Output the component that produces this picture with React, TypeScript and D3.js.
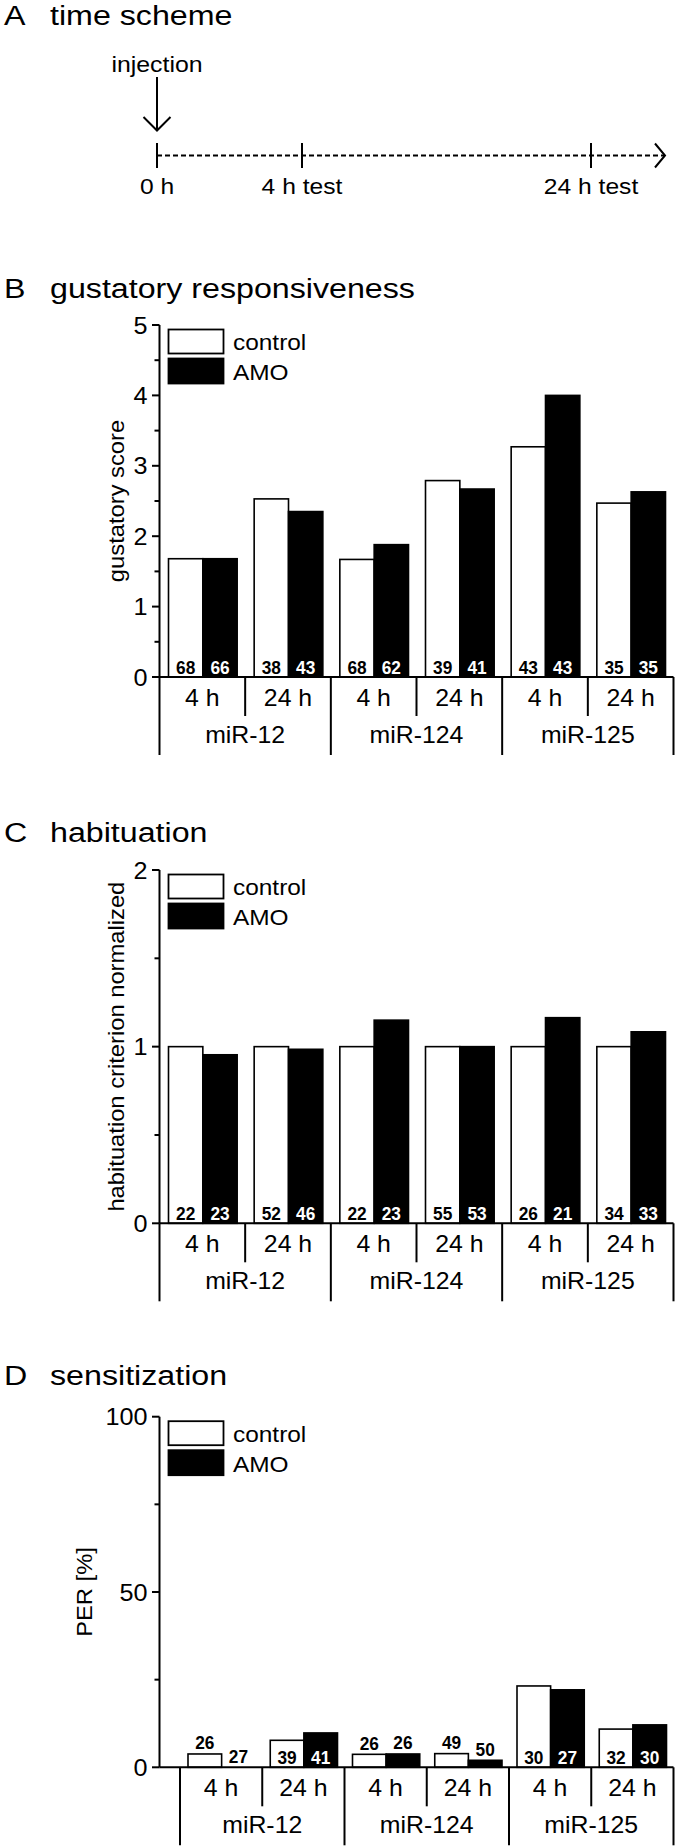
import React from "react";
import * as d3 from "d3";

const FONT = "'Liberation Sans', Arial, Helvetica, sans-serif";

// categories
const miRNAs = ["miR-12", "miR-124", "miR-125"];
const times = ["4 h", "24 h"];
const series = ["control", "AMO"];

// A: time scheme
const schemeHours = [0, 4, 24];
const schemeLabels = ["0 h", "4 h test", "24 h test"];

// B: gustatory responsiveness (gustatory score)
const gustControl = [1.68, 2.53, 1.67, 2.79, 3.27, 2.47];
const gustAmo = [1.68, 2.35, 1.88, 2.67, 4.0, 2.63];
const gustNControl = [68, 38, 68, 39, 43, 35];
const gustNAmo = [66, 43, 62, 41, 43, 35];
const gustTicks = [0, 1, 2, 3, 4, 5];

// C: habituation (criterion normalized)
const habControl = [1, 1, 1, 1, 1, 1];
const habAmo = [0.954, 0.985, 1.15, 1.0, 1.164, 1.084];
const habNControl = [22, 52, 22, 55, 26, 34];
const habNAmo = [23, 46, 23, 53, 21, 33];
const habTicks = [0, 1, 2];

// D: sensitization (PER %)
const sensControl = [3.8, 7.7, 3.7, 3.9, 23.2, 10.9];
const sensAmo = [0, 9.8, 3.8, 2.0, 22.1, 12.1];
const sensNControl = [26, 39, 26, 49, 30, 32];
const sensNAmo = [27, 41, 26, 50, 27, 30];
const sensTicks = [0, 50, 100];

const keys = miRNAs.flatMap((m) => times.map((t) => `${m}|${t}`));

function Txt({ x, y, sx = 1, rot = 0, size = 22, anchor = "start", weight = "normal", fill = "#000", children }: any) {
  return (
    <text
      transform={`translate(${x},${y}) rotate(${rot}) scale(${sx},1)`}
      fontSize={size}
      fontFamily={FONT}
      fontWeight={weight}
      textAnchor={anchor}
      fill={fill}
      stroke="none"
    >
      {children}
    </text>
  );
}

function Title({ y, letter, text }: any) {
  return (
    <g>
      <Txt x={4} y={y} size={28} sx={1.15}>{letter}</Txt>
      <Txt x={50} y={y} size={28} sx={1.15}>{text}</Txt>
    </g>
  );
}

function TimeScheme() {
  const x = d3.scaleLinear().domain([0, 4, 24]).range([157, 302, 591]);
  const lineY = 155.5;
  const endX = 665;
  return (
    <g>
      <Title y={25} letter="A" text="time scheme" />
      <Txt x={x(0)} y={72} anchor="middle" sx={1.13}>injection</Txt>
      <g stroke="#000" fill="none" strokeWidth={2}>
        <line x1={x(0)} x2={x(0)} y1={77} y2={130} />
        <polyline points={`${x(0) - 13.5},117 ${x(0)},130.5 ${x(0) + 13.5},117`} />
        <line x1={x(0)} x2={endX} y1={lineY} y2={lineY} strokeDasharray="5,3" strokeWidth={1.8} />
        <polyline points={`${endX - 10},${lineY - 12} ${endX},${lineY} ${endX - 10},${lineY + 12}`} />
        {schemeHours.map((h) => (
          <line key={h} x1={x(h)} x2={x(h)} y1={143} y2={168} />
        ))}
      </g>
      {schemeHours.map((h, i) => (
        <Txt key={h} x={x(h)} y={193.5} anchor="middle" sx={1.12}>{schemeLabels[i]}</Txt>
      ))}
    </g>
  );
}

function BarPanel({
  yTop, yZero, yMax, ticks, minor, yLabel, yLabelX, bandStart, padL, padR,
  control, amo, nControl, nAmo, labelAbove = false,
}: any) {
  const axisX = 159.5;
  const x1 = 673.5;
  const y = d3.scaleLinear().domain([0, yMax]).range([yZero, yTop]);
  const x = d3.scaleBand().domain(keys).range([bandStart, x1]);
  const bw = x.bandwidth();
  const sub = d3.scaleBand().domain(series).range([padL, bw - padR]);
  const sw = sub.bandwidth();
  const vals = [control, amo];
  const ns = [nControl, nAmo];
  return (
    <g>
      {/* legend */}
      <rect x={168.5} y={yTop + 4.5} width={55} height={24} fill="#fff" stroke="#000" strokeWidth={1.8} />
      <rect x={168.5} y={yTop + 33.5} width={55} height={25} fill="#000" stroke="#000" strokeWidth={1.8} />
      <Txt x={233} y={yTop + 25.3} sx={1.11}>control</Txt>
      <Txt x={233} y={yTop + 55.3} sx={1.11}>AMO</Txt>

      {/* bars */}
      {keys.map((k, i) => (
        <g key={k} transform={`translate(${x(k)},0)`}>
          {series.map((s, j) => {
            const v = vals[j][i];
            const top = y(v);
            const h = yZero - top;
            const bx = sub(s) as number;
            const inside = !labelAbove || h > 20;
            return (
              <g key={s}>
                {v > 0 && (
                  <rect x={bx} y={top} width={sw} height={h} fill={j ? "#000" : "#fff"} stroke="#000" strokeWidth={1.6} />
                )}
                <Txt
                  x={bx + sw / 2}
                  y={inside ? yZero - 3.5 : top - 4.5}
                  anchor="middle"
                  size={18}
                  sx={0.96}
                  weight="bold"
                  fill={inside && j ? "#fff" : "#000"}
                >
                  {ns[j][i]}
                </Txt>
              </g>
            );
          })}
        </g>
      ))}

      {/* axes */}
      <g stroke="#000" strokeWidth={2}>
        <line x1={axisX} x2={axisX} y1={yTop} y2={yZero} />
        {ticks.map((t: number) => (
          <line key={t} x1={axisX - 7.5} x2={axisX} y1={y(t)} y2={y(t)} />
        ))}
        {minor.map((t: number) => (
          <line key={t} x1={axisX - 5} x2={axisX} y1={y(t)} y2={y(t)} />
        ))}
        <line x1={axisX} x2={x1} y1={yZero} y2={yZero} />
        {d3.range(keys.length + 1).map((i) => {
          const bx = bandStart + i * bw;
          return <line key={i} x1={bx} x2={bx} y1={yZero} y2={yZero + (i % 2 === 0 ? 78 : 39)} />;
        })}
      </g>
      {ticks.map((t: number) => (
        <Txt key={t} x={axisX - 12} y={y(t) + 8.5} anchor="end" size={24} sx={1.05}>{t}</Txt>
      ))}
      <Txt x={yLabelX} y={(yTop + yZero) / 2} rot={-90} anchor="middle" size={22} sx={1.08}>{yLabel}</Txt>

      {/* x categories */}
      {keys.map((k, i) => (
        <Txt key={k} x={(x(k) as number) + bw / 2} y={yZero + 28.5} anchor="middle" size={23} sx={1.08}>
          {times[i % 2]}
        </Txt>
      ))}
      {miRNAs.map((m) => (
        <Txt key={m} x={(x(`${m}|4 h`) as number) + bw} y={yZero + 65.5} anchor="middle" size={23} sx={1.08}>
          {m}
        </Txt>
      ))}
    </g>
  );
}

export default function App() {
  return (
    <svg width={675} height={1848} style={{ position: "absolute", left: 0, top: 0, background: "#fff" }}>
      <rect width={675} height={1848} fill="#fff" />
      <TimeScheme />

      <Title y={298} letter="B" text="gustatory responsiveness" />
      <BarPanel
        yTop={325} yZero={677} yMax={5} ticks={gustTicks} minor={[0.5, 1.5, 2.5, 3.5, 4.5]}
        yLabel="gustatory score" yLabelX={124} bandStart={159.5} padL={9} padR={8}
        control={gustControl} amo={gustAmo} nControl={gustNControl} nAmo={gustNAmo}
      />

      <Title y={842} letter="C" text="habituation" />
      <BarPanel
        yTop={870} yZero={1223.3} yMax={2} ticks={habTicks} minor={[0.5, 1.5]}
        yLabel="habituation criterion normalized" yLabelX={124} bandStart={159.5} padL={9} padR={8}
        control={habControl} amo={habAmo} nControl={habNControl} nAmo={habNAmo}
      />

      <Title y={1385} letter="D" text="sensitization" />
      <BarPanel
        yTop={1416.7} yZero={1767.3} yMax={100} ticks={sensTicks} minor={[25, 75]}
        yLabel="PER [%]" yLabelX={92} bandStart={180} padL={8} padR={7}
        control={sensControl} amo={sensAmo} nControl={sensNControl} nAmo={sensNAmo} labelAbove
      />
    </svg>
  );
}
